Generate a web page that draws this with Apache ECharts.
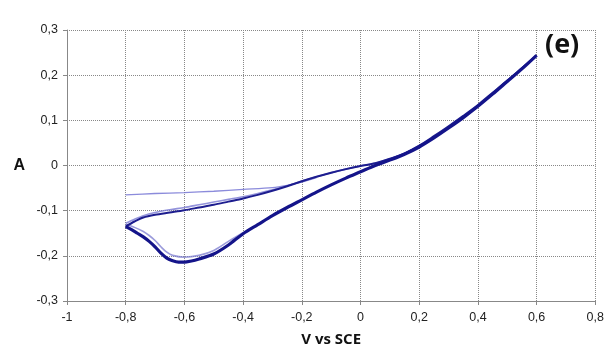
<!DOCTYPE html>
<html><head><meta charset="utf-8">
<script src="https://cdn.jsdelivr.net/npm/echarts@6/dist/echarts.min.js"></script>
<style>html,body{margin:0;padding:0;background:#fff}#c{width:607px;height:353px}</style>
</head><body><div id="c"></div>
<script>
// Tick labels
const xTickValues = [-1, -0.8, -0.6, -0.4, -0.2, 0, 0.2, 0.4, 0.6, 0.8];
const xTickLabels = ['-1', '-0,8', '-0,6', '-0,4', '-0,2', '0', '0,2', '0,4', '0,6', '0,8'];
const yTickValues = [-0.3, -0.2, -0.1, 0, 0.1, 0.2, 0.3];
const yTickLabels = ['-0,3', '-0,2', '-0,1', '0', '0,1', '0,2', '0,3'];

// Initial scan segment (thin, light): [V, A]
const startSegment = [[-0.8,-0.065],[-0.7,-0.062],[-0.6,-0.060],[-0.5,-0.057],[-0.4,-0.053],[-0.3,-0.049],[-0.25,-0.044],[-0.2,-0.037],[-0.15,-0.027]];
// Light (earlier cycle) anodic branch
const upperLight = [[-0.8,-0.128],[-0.77,-0.119],[-0.74,-0.111],[-0.7,-0.104],[-0.65,-0.098],[-0.6,-0.093],[-0.55,-0.087],[-0.5,-0.081],[-0.45,-0.075],[-0.4,-0.069],[-0.35,-0.062],[-0.3,-0.054],[-0.25,-0.045],[-0.2,-0.035],[-0.15,-0.025],[-0.1,-0.016],[-0.05,-0.008],[0,-0.001],[0.05,0.005],[0.1,0.015],[0.15,0.027],[0.2,0.044]];
// Light (earlier cycle) cathodic branch
const lowerLight = [[-0.4,-0.149],[-0.45,-0.168],[-0.5,-0.188],[-0.55,-0.199],[-0.6,-0.203],[-0.64,-0.199],[-0.66,-0.192],[-0.68,-0.180],[-0.7,-0.166],[-0.72,-0.155],[-0.74,-0.146],[-0.77,-0.137],[-0.8,-0.130]];
// Dark anodic branch
const upperDark = [[-0.8,-0.135],[-0.77,-0.124],[-0.74,-0.115],[-0.7,-0.109],[-0.65,-0.104],[-0.6,-0.099],[-0.55,-0.093],[-0.5,-0.087],[-0.45,-0.080],[-0.4,-0.073],[-0.35,-0.065],[-0.3,-0.056],[-0.25,-0.046],[-0.2,-0.035],[-0.15,-0.025],[-0.1,-0.016],[-0.05,-0.008],[0,-0.001],[0.05,0.005],[0.1,0.015],[0.15,0.027],[0.2,0.044],[0.25,0.065],[0.3,0.087],[0.35,0.110],[0.4,0.134],[0.45,0.161],[0.5,0.188],[0.55,0.216],[0.6,0.244]];
// Dark cathodic branch
const lowerDark = [[0.6,0.244],[0.55,0.214],[0.5,0.186],[0.45,0.158],[0.4,0.131],[0.35,0.106],[0.3,0.083],[0.25,0.061],[0.2,0.041],[0.15,0.025],[0.1,0.012],[0.05,0.0],[0,-0.014],[-0.05,-0.028],[-0.1,-0.043],[-0.15,-0.059],[-0.2,-0.076],[-0.25,-0.093],[-0.3,-0.111],[-0.35,-0.131],[-0.4,-0.151],[-0.45,-0.176],[-0.5,-0.196],[-0.55,-0.207],[-0.58,-0.212],[-0.6,-0.214],[-0.62,-0.214],[-0.64,-0.211],[-0.66,-0.205],[-0.68,-0.194],[-0.7,-0.180],[-0.72,-0.168],[-0.74,-0.158],[-0.76,-0.150],[-0.78,-0.142],[-0.8,-0.135]];

const chart = echarts.init(document.getElementById('c'), null, {renderer: 'canvas'});
function fmt(vals, labels) {
  return function (v) {
    for (let i = 0; i < vals.length; i++) if (Math.abs(vals[i] - v) < 1e-6) return labels[i];
    return '';
  };
}
const lineSeries = (data, color, width) => ({
  type: 'line', data: data, showSymbol: false, symbol: 'none', smooth: 0.3,
  lineStyle: {color: color, width: width}, animation: false
});
chart.setOption({
  animation: false,
  grid: {left: 67, right: 10, top: 30, bottom: 52},
  xAxis: {
    type: 'value', min: -1, max: 0.8, interval: 0.2,
    name: 'V vs SCE', nameLocation: 'middle', nameGap: 31,
    nameTextStyle: {fontFamily: 'Open Sans', fontWeight: 'bold', fontSize: 15, color: '#111'},
    axisLine: {onZero: false, lineStyle: {color: '#888', width: 1}},
    axisTick: {show: true, inside: false, length: 4, lineStyle: {color: '#888'}},
    axisLabel: {formatter: fmt(xTickValues, xTickLabels), color: '#222', fontFamily: 'Liberation Sans', fontSize: 12.5, margin: 10},
    splitLine: {show: true, lineStyle: {color: '#888', type: [1, 1], width: 1}}
  },
  yAxis: {
    type: 'value', min: -0.3, max: 0.3, interval: 0.1,
    name: 'A', nameLocation: 'middle', nameGap: 42, nameRotate: 0,
    nameTextStyle: {fontFamily: 'Liberation Sans', fontWeight: 'bold', fontSize: 16, color: '#111'},
    axisLine: {show: true, onZero: false, lineStyle: {color: '#888', width: 1}},
    axisTick: {show: true, inside: false, length: 4, lineStyle: {color: '#888'}},
    axisLabel: {formatter: fmt(yTickValues, yTickLabels), color: '#222', fontFamily: 'Liberation Sans', fontSize: 12.5, margin: 9},
    splitLine: {show: true, lineStyle: {color: '#888', type: [1, 1], width: 1}}
  },
  graphic: [{
    type: 'text', left: 545, top: 32,
    style: {text: '(e)', fontFamily: 'Open Sans', fontWeight: 'bold', fontSize: 27, fill: '#111'}
  }],
  series: [
    lineSeries(startSegment, 'rgba(110,110,210,0.8)', 1.3),
    lineSeries(upperLight, 'rgba(120,120,210,0.8)', 1.6),
    lineSeries(lowerLight, 'rgba(130,130,210,0.8)', 1.6),
    lineSeries(upperDark, '#1d1d8f', 2),
    lineSeries(lowerDark, '#14148a', 3.2)
  ]
});
</script></body></html>
